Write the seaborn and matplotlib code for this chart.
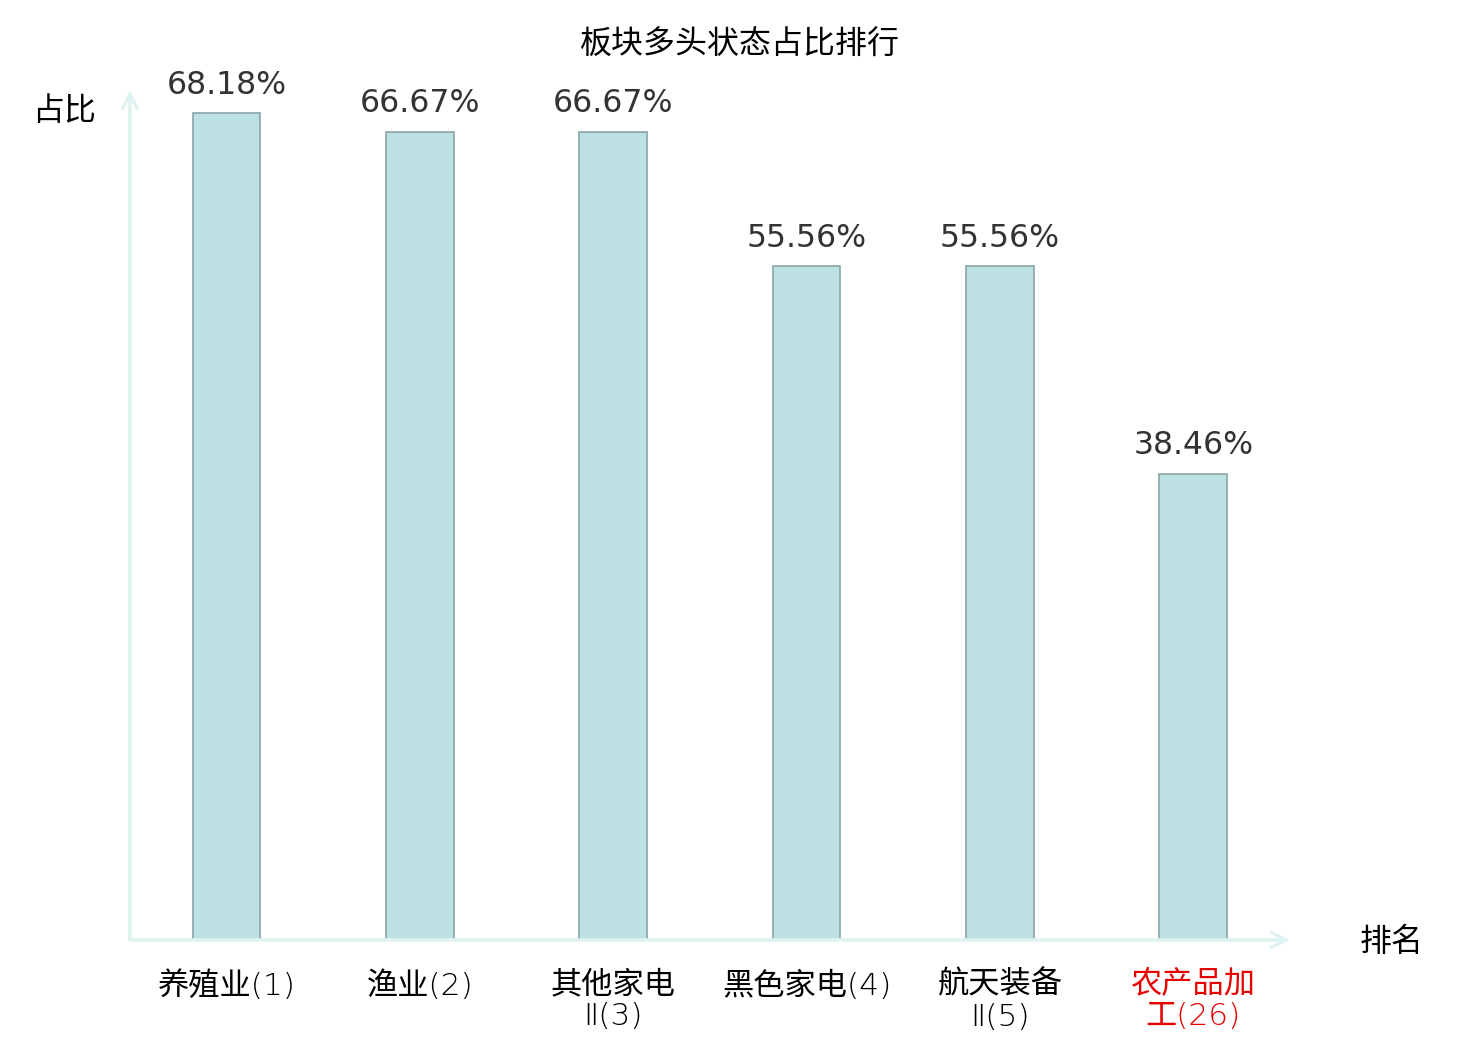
import matplotlib
matplotlib.use("Agg")
import matplotlib.pyplot as plt
import seaborn as sns
import pandas as pd

sectors = ["养殖业(1)", "渔业(2)", "其他家电\nⅡ(3)", "黑色家电(4)", "航天装备\nⅡ(5)", "农产品加\n工(26)"]
ratios = [68.18, 66.67, 66.67, 55.56, 55.56, 38.46]
value_labels = ["68.18%", "66.67%", "66.67%", "55.56%", "55.56%", "38.46%"]
label_colors = ["#000000"] * 5 + ["#e60000"]

sns.set_theme(style="white")
plt.rcParams['font.family'] = ['Noto Sans CJK SC', 'DejaVu Sans']

df = pd.DataFrame({"sector": sectors, "ratio": ratios})

fig = plt.figure(figsize=(14.8, 10.4), dpi=100)
ax = fig.add_axes([0.0878, 0.0962, 0.7838, 0.8173])

sns.barplot(data=df, x="sector", y="ratio", ax=ax, color="#bce0e3",
            edgecolor="#8aa6a6", linewidth=1.2, width=0.35, saturation=1)

for i, (v, t) in enumerate(zip(ratios, value_labels)):
    ax.text(i, v + 1.0, t, ha="center", va="bottom", fontsize=22.7,
            color="#333333", fontfamily="DejaVu Sans")

ax.set_xlim(-0.5, 5.5)
ax.set_ylim(0, 70.1)
for s in ax.spines.values():
    s.set_visible(False)
ax.set_yticks([])
ax.set_xlabel("")
ax.set_ylabel("")
ax.tick_params(axis="x", length=0, pad=22)
for lab, c in zip(ax.get_xticklabels(), label_colors):
    lab.set_color(c)
    lab.set_fontsize(22.5)
    lab.set_linespacing(1.12)
    lab.set_fontfamily(['DejaVu Sans', 'Noto Sans CJK SC'])
    lab.set_fontweight('light')

axis_col = "#def2ef"
arrow = dict(arrowstyle="->,head_length=0.9,head_width=0.45", color=axis_col, lw=2.5,
             shrinkA=0, shrinkB=0)
ax.annotate("", xy=(1.0, 0), xytext=(0, 0), xycoords="axes fraction",
            textcoords="axes fraction", arrowprops=arrow, annotation_clip=False)
ax.annotate("", xy=(0, 1.0), xytext=(0, 0), xycoords="axes fraction",
            textcoords="axes fraction", arrowprops=arrow, annotation_clip=False)

fig.text(0.5, 0.957, "板块多头状态占比排行", ha="center", va="center", fontsize=23, color="#000000")
fig.text(0.0432, 0.893, "占比", ha="center", va="center", fontsize=23, color="#000000")
fig.text(0.9405, 0.094, "排名", ha="center", va="center", fontsize=23, color="#000000")

fig.savefig("out.png", dpi=100, facecolor="white")
